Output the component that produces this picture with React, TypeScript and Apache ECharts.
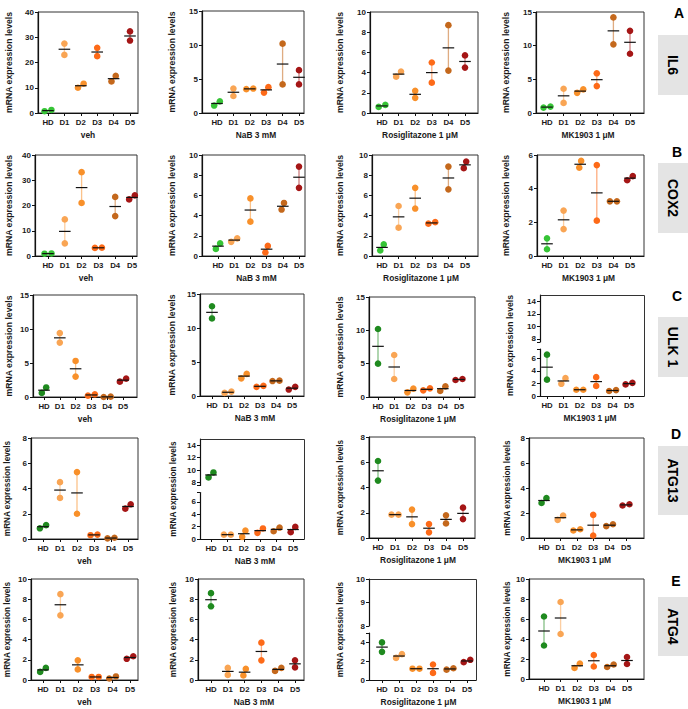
import React, { useEffect, useRef } from 'react';
import * as echarts from 'echarts';

const FONT = '"Liberation Sans", Arial, Helvetica, sans-serif';

// ---------------- data ----------------
const categories = ['HD', 'D1', 'D2', 'D3', 'D4', 'D5'];
const treatments = ['veh', 'NaB 3 mM', 'Rosiglitazone 1 μM', 'MK1903 1 μM'];
const genes = ['IL6', 'COX2', 'ULK 1', 'ATG13', 'ATG4'];
const panelLetters = ['A', 'B', 'C', 'D', 'E'];
const yTitle = 'mRNA expression levels';

// two replicate values per donor group (HD, D1..D5)
const il6Veh = [[0.7, 1.2], [27.5, 23.0], [10.0, 11.6], [25.8, 22.5], [14.7, 12.5], [32.3, 28.7]];
const il6NaB = [[1.1, 1.7], [3.6, 2.5], [3.5, 3.6], [3.8, 3.0], [10.2, 4.2], [6.3, 4.2]];
const il6Rosi = [[0.6, 0.8], [4.1, 3.6], [2.2, 1.5], [5.0, 3.0], [8.7, 4.2], [5.7, 4.5]];
const il6Mk = [[0.8, 0.95], [3.6, 1.5], [3.0, 3.5], [5.9, 4.0], [14.2, 10.2], [12.2, 8.8]];

const cox2Veh = [[0.9, 1.0], [14.5, 5.0], [33.2, 21.0], [3.2, 3.3], [23.4, 15.8], [22.4, 24.0]];
const cox2NaB = [[1.25, 0.7], [1.4, 1.75], [5.7, 3.4], [1.0, 0.35], [5.25, 4.6], [8.85, 6.75]];
const cox2Rosi = [[1.15, 0.55], [4.95, 2.8], [6.75, 4.7], [3.2, 3.35], [8.85, 6.6], [9.35, 8.7]];
const cox2Mk = [[1.05, 0.4], [2.7, 1.6], [5.65, 5.25], [5.4, 2.1], [3.25, 3.25], [4.5, 4.75]];

const ulk1Veh = [[1.4, 0.6], [9.4, 8.0], [5.3, 3.0], [0.2, 0.4], [0.0, 0.05], [2.25, 2.7]];
const ulk1NaB = [[13.2, 11.4], [0.45, 0.65], [2.6, 3.25], [1.35, 1.5], [2.2, 2.25], [0.95, 1.35]];
const ulk1Rosi = [[10.2, 5.0], [6.3, 2.7], [0.7, 1.25], [1.0, 1.3], [0.9, 1.6], [2.55, 2.7]];
const ulk1Mk = [[6.6, 2.6], [2.85, 1.95], [1.0, 1.0], [3.0, 1.6], [0.8, 0.95], [1.85, 2.1]];

const atg13Veh = [[0.85, 1.1], [4.5, 3.25], [5.3, 2.0], [0.3, 0.35], [0.05, 0.1], [2.75, 2.4]];
const atg13NaB = [[9.6, 8.8], [0.7, 0.7], [1.35, 0.35], [1.0, 1.7], [1.25, 1.85], [1.95, 1.1]];
const atg13Rosi = [[6.1, 4.55], [1.85, 1.85], [2.25, 1.1], [1.1, 0.45], [1.8, 1.15], [2.4, 1.5]];
const atg13Mk = [[3.2, 2.8], [1.45, 1.8], [0.6, 0.7], [1.85, 0.2], [0.95, 1.1], [2.6, 2.7]];

const atg4Veh = [[0.8, 1.2], [8.5, 6.4], [1.95, 1.05], [0.3, 0.3], [0.15, 0.35], [2.1, 2.35]];
const atg4NaB = [[8.6, 7.3], [1.2, 0.5], [1.1, 0.45], [3.7, 1.95], [0.9, 1.2], [1.95, 1.25]];
const atg4Rosi = [[4.0, 3.0], [2.35, 2.75], [1.2, 1.2], [1.65, 0.75], [1.1, 1.25], [1.9, 2.15]];
const atg4Mk = [[6.25, 3.35], [7.7, 4.5], [1.1, 1.55], [2.4, 1.25], [1.2, 1.45], [2.2, 1.5]];

// y tick labels per panel (veh, NaB, Rosiglitazone, MK1903)
const il6Ticks = [[0, 10, 20, 30, 40], [0, 5, 10, 15], [0, 2, 4, 6, 8, 10], [0, 5, 10, 15]];
const cox2Ticks = [[0, 10, 20, 30, 40], [0, 2, 4, 6, 8, 10], [0, 2, 4, 6, 8, 10], [0, 2, 4, 6]];
const ulk1Ticks = [[0, 5, 10, 15], [0, 5, 10, 15], [0, 5, 10, 15], [0, 2, 4, 6]];
const atg13Ticks = [[0, 2, 4, 6, 8], [0, 2, 4, 6], [0, 2, 4, 6, 8], [0, 2, 4, 6, 8]];
const atg4Ticks = [[0, 2, 4, 6, 8, 10], [0, 2, 4, 6, 8, 10], [0, 2, 4], [0, 2, 4, 6, 8, 10]];

// broken axes: [lower segment max, upper segment min, upper segment max] and upper tick labels
const ulk1MkBreak = [7.5, 7.5, 15];
const ulk1MkUpperTicks = [8, 10, 12, 14];
const atg13NaBBreak = [7.5, 7.5, 15];
const atg13NaBUpperTicks = [8, 10, 12, 14];
const atg4RosiBreak = [5, 8, 10];
const atg4RosiUpperTicks = [8, 9, 10];

const brightColors = ['#36c436', '#f9a554', '#f8902a', '#fd6a18', '#c4681c', '#a51616'];
const darkColors = ['#1f8a1f', '#f9a554', '#f8902a', '#fd6a18', '#c4681c', '#a51616'];

// ---------------- layout (pixels) ----------------
// [left, right, top, bottom, firstCategoryX, lastCategoryX, yTitleX]
const PANEL_BOX = [
  [[38, 138, 12, 113, 48, 130, 9], [202, 304, 11, 113, 217, 299, 172], [370, 478, 12, 113, 382, 465, 340], [536, 644, 12, 113, 547, 630, 506]],
  [[35, 137, 155, 256, 48, 132, 9], [202, 305, 155, 256, 218, 299, 172], [372, 478, 155, 256, 382, 465, 340], [537, 644, 155, 256, 547, 630, 506]],
  [[33, 137, 295, 397, 44, 123, 9], [200, 304, 294, 396, 212, 292, 172], [369, 475, 297, 397, 378, 459, 340], [540, 644, 295, 396, 547, 629, 510]],
  [[31, 138, 438, 539, 43, 128, 7], [200, 304, 439, 539, 211, 293, 173], [369, 475, 437, 538, 378, 463, 340], [529, 644, 438, 538, 544, 626, 507]],
  [[31, 138, 579, 680, 43, 130, 7], [198, 304, 579, 680, 211, 295, 173], [369, 476, 579, 680, 382, 467, 340], [529, 644, 579, 679, 544, 627, 507]],
];
const X_NAME_SHIFT = [0, 3, -4, -2];
const LETTER_POS = [[679, 13], [677, 152], [677, 296], [676, 434], [676, 581]];
const GENE_BOX = [[35, 95], [163, 233], [317, 377], [446, 515], [597, 656]];
const BREAK_GAP = 7;
const DOT_R = 3.3;
const MEAN_HALF = 5.8;

function makeRenderItem(colors: string[]) {
  return (params: any, api: any) => {
    const c = api.value(0);
    const a = api.value(1);
    const b = api.value(2);
    const color = colors[Math.round(c)];
    const lo = Math.min(a, b);
    const hi = Math.max(a, b);
    const pLo = api.coord([c, lo]);
    const pHi = api.coord([c, hi]);
    const pM = api.coord([c, (a + b) / 2]);
    const dy = Math.abs(pLo[1] - pHi[1]);
    const d = DOT_R * 2 + 0.4;
    const off = dy < d ? Math.sqrt(d * d - dy * dy) / 2 : 0;
    return {
      type: 'group',
      children: [
        { type: 'line', shape: { x1: pLo[0], y1: pLo[1], x2: pHi[0], y2: pHi[1] }, style: { stroke: color, opacity: 0.55, lineWidth: 1.3 } },
        { type: 'circle', shape: { cx: pLo[0] - off, cy: pLo[1], r: DOT_R }, style: { fill: color } },
        { type: 'circle', shape: { cx: pHi[0] + off, cy: pHi[1], r: DOT_R }, style: { fill: color } },
        { type: 'line', shape: { x1: pM[0] - MEAN_HALF, y1: pM[1], x2: pM[0] + MEAN_HALF, y2: pM[1] }, style: { stroke: '#111', lineWidth: 1.2 } },
      ],
    };
  };
}

function buildOption() {
  const grid: any[] = [];
  const xAxis: any[] = [];
  const yAxis: any[] = [];
  const series: any[] = [];
  const graphic: any[] = [];

  const geneValues = [
    [il6Veh, il6NaB, il6Rosi, il6Mk],
    [cox2Veh, cox2NaB, cox2Rosi, cox2Mk],
    [ulk1Veh, ulk1NaB, ulk1Rosi, ulk1Mk],
    [atg13Veh, atg13NaB, atg13Rosi, atg13Mk],
    [atg4Veh, atg4NaB, atg4Rosi, atg4Mk],
  ];
  const geneTicks = [il6Ticks, cox2Ticks, ulk1Ticks, atg13Ticks, atg4Ticks];
  const breakInfo: Record<string, { range: number[]; upper: number[] }> = {
    '2-3': { range: ulk1MkBreak, upper: ulk1MkUpperTicks },
    '3-1': { range: atg13NaBBreak, upper: atg13NaBUpperTicks },
    '4-2': { range: atg4RosiBreak, upper: atg4RosiUpperTicks },
  };
  const catIdx = categories.map((_, i) => i);
  const axisColor = '#111';
  const labelColor = '#1a1a1a';

  const makeX = (gi: number, min: number, max: number, name: string, col: number) => {
    const s = X_NAME_SHIFT[col];
    return {
      gridIndex: gi, type: 'value', min, max,
      axisLine: { show: true, onZero: false, lineStyle: { color: axisColor, width: 1.2 } },
      axisTick: { show: true, length: 3, customValues: catIdx, lineStyle: { color: axisColor, width: 1 } },
      axisLabel: {
        show: true, customValues: catIdx,
        formatter: (v: number) => categories[Math.round(v)] ?? '',
        fontSize: 7.8, fontWeight: 'bold', color: labelColor, fontFamily: FONT, margin: 5,
      },
      splitLine: { show: false },
      name, nameLocation: 'middle', nameGap: 18,
      nameTextStyle: {
        fontSize: 8.4, fontWeight: 'bold', color: labelColor, fontFamily: FONT,
        padding: s >= 0 ? [0, 0, 0, 2 * s] : [0, -2 * s, 0, 0],
      },
    };
  };
  const makeY = (gi: number, min: number, max: number, tickVals: number[], labelVals: number[]) => ({
    gridIndex: gi, type: 'value', min, max,
    axisLine: { show: true, onZero: false, lineStyle: { color: axisColor, width: 1.2 } },
    axisTick: { show: true, length: 3, customValues: tickVals, lineStyle: { color: axisColor, width: 1 } },
    axisLabel: { show: true, customValues: labelVals, fontSize: 8, fontWeight: 'bold', color: labelColor, fontFamily: FONT, margin: 4 },
    splitLine: { show: false },
  });
  const makeSeries = (gi: number, data: number[][], colors: string[]) => ({
    type: 'custom', xAxisIndex: gi, yAxisIndex: gi, data,
    dimensions: ['c', 'a', 'b'], encode: { x: 0, y: [1, 2] },
    renderItem: makeRenderItem(colors), silent: true, clip: false, z: 5,
  });

  for (let row = 0; row < genes.length; row++) {
    const colors = row < 2 ? brightColors : darkColors;
    for (let col = 0; col < treatments.length; col++) {
      const [l, r, t, b, fx, lx, tx] = PANEL_BOX[row][col];
      const unit = (lx - fx) / (categories.length - 1);
      const xMin = -(fx - l) / unit;
      const xMax = categories.length - 1 + (r - lx) / unit;
      const values = geneValues[row][col];
      const ticks = geneTicks[row][col];
      const br = breakInfo[`${row}-${col}`];
      const data = values.map((v, i) => [i, v[0], v[1]]);
      if (!br) {
        const gi = grid.length;
        grid.push({ left: l, top: t, width: r - l, height: b - t, show: true, borderColor: '#333', borderWidth: 1, backgroundColor: 'transparent', outerBoundsMode: 'none' });
        xAxis.push(makeX(gi, xMin, xMax, treatments[col], col));
        yAxis.push(makeY(gi, 0, ticks[ticks.length - 1], ticks, ticks));
        series.push(makeSeries(gi, data, colors));
      } else {
        const [lowMax, upMin, upMax] = br.range;
        const seg = (b - t - BREAK_GAP) / 2;
        const giL = grid.length;
        grid.push({ left: l, top: b - seg, width: r - l, height: seg, show: false, outerBoundsMode: 'none' });
        grid.push({ left: l, top: t, width: r - l, height: seg, show: false, outerBoundsMode: 'none' });
        xAxis.push(makeX(giL, xMin, xMax, treatments[col], col));
        xAxis.push({ gridIndex: giL + 1, type: 'value', min: xMin, max: xMax, show: false });
        yAxis.push(makeY(giL, 0, lowMax, [...ticks, lowMax], ticks));
        yAxis.push(makeY(giL + 1, upMin, upMax, [upMin, ...br.upper], br.upper));
        const lowerData = data.filter((d) => Math.min(d[1], d[2]) < upMin);
        const upperData = data.filter((d) => Math.min(d[1], d[2]) >= upMin);
        series.push(makeSeries(giL, lowerData, colors));
        series.push(makeSeries(giL + 1, upperData, colors));
        const L = Math.round(l) + 0.5, R = Math.round(r) + 0.5, T = Math.round(t) + 0.5, B = Math.round(b) + 0.5;
        graphic.push({
          type: 'polyline', silent: true, z: 1,
          shape: { points: [[L, T], [R, T], [R, B]] },
          style: { stroke: '#333', lineWidth: 1, fill: null },
        });
      }
      graphic.push({
        type: 'text', x: tx, y: (t + b) / 2, rotation: Math.PI / 2, silent: true,
        style: {
          text: yTitle, fill: labelColor, fontSize: row < 3 ? 8.7 : 8.2, fontWeight: 'bold', fontFamily: FONT,
          align: 'center', verticalAlign: 'middle', textAlign: 'center', textVerticalAlign: 'middle',
        },
      });
    }
    // panel letter
    graphic.push({
      type: 'text', x: LETTER_POS[row][0], y: LETTER_POS[row][1], silent: true,
      style: {
        text: panelLetters[row], fill: '#000', fontSize: 14, fontWeight: 'bold', fontFamily: FONT,
        align: 'center', verticalAlign: 'middle', textAlign: 'center', textVerticalAlign: 'middle',
      },
    });
    // gene label box
    const [gy0, gy1] = GENE_BOX[row];
    graphic.push({
      type: 'rect', silent: true, shape: { x: 658, y: gy0, width: 32, height: gy1 - gy0 },
      style: { fill: '#e4e4e4' },
    });
    graphic.push({
      type: 'text', x: 673, y: (gy0 + gy1) / 2, rotation: -Math.PI / 2, silent: true,
      style: {
        text: genes[row], fill: '#000', fontSize: 14, fontWeight: 'bold', fontFamily: FONT,
        align: 'center', verticalAlign: 'middle', textAlign: 'center', textVerticalAlign: 'middle',
      },
    });
  }

  return {
    animation: false,
    backgroundColor: '#ffffff',
    textStyle: { fontFamily: FONT },
    grid, xAxis, yAxis, series, graphic,
  };
}

export default function App() {
  const ref = useRef<HTMLDivElement>(null);
  useEffect(() => {
    document.body.style.margin = '0';
    if (!ref.current) return;
    const chart = echarts.init(ref.current, undefined, { renderer: 'svg', width: 688, height: 709 });
    chart.setOption(buildOption() as any);
    return () => chart.dispose();
  }, []);
  return (
    <div
      ref={ref}
      style={{ position: 'absolute', left: 0, top: 0, width: 688, height: 709, background: '#fff' }}
    />
  );
}
